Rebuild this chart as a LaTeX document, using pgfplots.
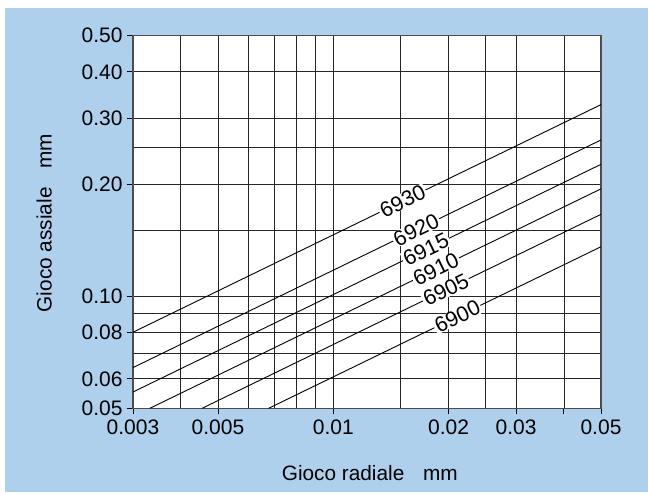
\documentclass[border=0pt]{standalone}
\usepackage{fontspec}
\setmainfont{Liberation Sans}
\usepackage{pgfplots}
\pgfplotsset{compat=1.18}
\definecolor{bgblue}{HTML}{AED0EC}
\tikzset{lbl/.style={sloped, fill=white, inner xsep=1.5bp, inner ysep=0bp, font=\fontsize{21.5bp}{22bp}\selectfont}}
\begin{document}
\begin{tikzpicture}[x=1bp,y=1bp]
\fill[white] (0,0) rectangle (648,494);
\fill[bgblue] (5,2) rectangle (648,486);
\begin{axis}[
  at={(133bp,85.7bp)}, anchor=south west,
  scale only axis, width=468bp, height=372.6bp,
  xmode=log, ymode=log,
  xmin=0.003, xmax=0.05, ymin=0.05, ymax=0.5,
  axis background/.style={fill=white},
  xtick={0.003,0.005,0.01,0.02,0.03,0.04,0.05},
  xticklabels={0.003,0.005,0.01,0.02,0.03,,0.05},
  minor xtick={0.004,0.006,0.007,0.008,0.009,0.015,0.025},
  ytick={0.05,0.06,0.08,0.1,0.2,0.3,0.4,0.5},
  yticklabels={0.05,0.06,0.08,0.10,0.20,0.30,0.40,0.50},
  minor ytick={0.07,0.09,0.15,0.25},
  grid=both,
  major grid style={black!85, line width=0.75bp},
  minor grid style={black!85, line width=0.75bp},
  tick align=outside,
  major tick length=6bp, minor tick length=0bp,
  tick style={black, line width=0.9bp},
  xtick pos=bottom, ytick pos=left,
  axis line style={black!70, line width=1.2bp},
  tick label style={font=\fontsize{21bp}{22bp}\selectfont, text=black},
  xticklabel style={yshift=-2bp},
  yticklabel style={xshift=-1bp},
  label style={font=\fontsize{20.8bp}{22bp}\selectfont, text=black},
  xlabel={Gioco radiale\hspace{0.9em}mm},
  ylabel={Gioco assiale\hspace{0.9em}mm},
  xlabel style={at={(axis description cs:0.506,-0.1943)}, anchor=base},
  ylabel style={at={(axis description cs:-0.1737,0.497)}, anchor=base},
]
\addplot[black, line width=0.9bp, no markers] coordinates {(0.003,0.0800) (0.05,0.3266)} node[lbl,pos=0.576] {6930};
\addplot[black, line width=0.9bp, no markers] coordinates {(0.003,0.0643) (0.05,0.2625)} node[lbl,pos=0.605] {6920};
\addplot[black, line width=0.9bp, no markers] coordinates {(0.003,0.0553) (0.05,0.2258)} node[lbl,pos=0.626] {6915};
\addplot[black, line width=0.9bp, no markers] coordinates {(0.00332,0.05) (0.05,0.1941)} node[lbl,pos=0.634] {6910};
\addplot[black, line width=0.9bp, no markers] coordinates {(0.004546,0.05) (0.05,0.1658)} node[lbl,pos=0.611] {6905};
\addplot[black, line width=0.9bp, no markers] coordinates {(0.00678,0.05) (0.05,0.1357)} node[lbl,pos=0.568] {6900};
\end{axis}
\end{tikzpicture}
\end{document}
